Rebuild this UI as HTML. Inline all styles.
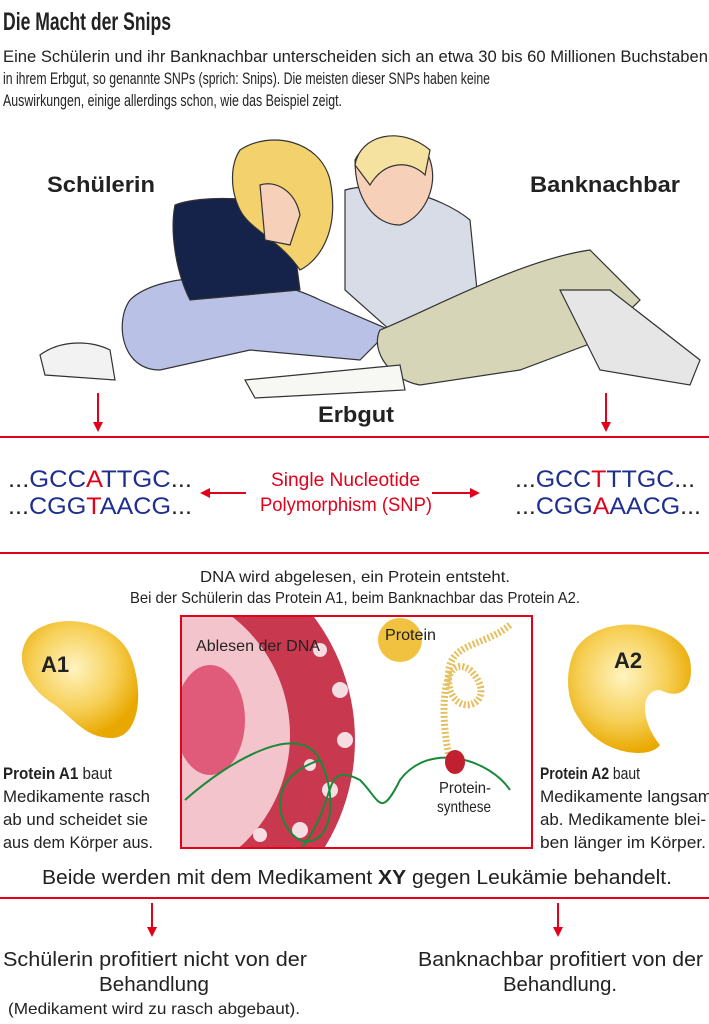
<!DOCTYPE html>
<html><head><meta charset="utf-8"><style>
html,body{margin:0;padding:0;background:#fff}
svg{display:block}
text{font-family:"Liberation Sans Narrow","Liberation Sans",sans-serif;fill:#222}
.b{font-weight:bold}
.r{fill:#e2001a}
.bl{fill:#1f2f8f}
</style></head><body>
<svg width="709" height="1024" viewBox="0 0 709 1024" xmlns="http://www.w3.org/2000/svg">
<defs>
<marker id="ah" markerWidth="10" markerHeight="10" refX="8" refY="5" orient="auto" markerUnits="userSpaceOnUse"><path d="M0,0 L10,5 L0,10 z" fill="#e2001a"/></marker>
<radialGradient id="gy" cx="45%" cy="40%" r="60%"><stop offset="0" stop-color="#fff3c0"/><stop offset="0.6" stop-color="#f6cf55"/><stop offset="1" stop-color="#e9a800"/></radialGradient>
</defs>
<text x="3" y="30" font-size="25" class="b" textLength="168" lengthAdjust="spacingAndGlyphs">Die Macht der Snips</text>
<text x="3" y="62" font-size="17" textLength="705" lengthAdjust="spacingAndGlyphs">Eine Schülerin und ihr Banknachbar unterscheiden sich an etwa 30 bis 60 Millionen Buchstaben</text>
<text x="3" y="84" font-size="17" textLength="487" lengthAdjust="spacingAndGlyphs">in ihrem Erbgut, so genannte SNPs (sprich: Snips). Die meisten dieser SNPs haben keine</text>
<text x="3" y="106" font-size="17" textLength="339" lengthAdjust="spacingAndGlyphs">Auswirkungen, einige allerdings schon, wie das Beispiel zeigt.</text>
<text x="47" y="192" font-size="22" class="b" textLength="108" lengthAdjust="spacingAndGlyphs">Schülerin</text>
<text x="530" y="192" font-size="22" class="b" textLength="150" lengthAdjust="spacingAndGlyphs">Banknachbar</text>
<g stroke="#333" stroke-width="1.2">
<path d="M130,300 C160,270 260,270 320,300 L390,330 L360,360 L250,350 L160,370 C120,370 115,320 130,300z" fill="#b9c2e6"/>
<path d="M40,355 C60,340 90,340 110,350 L115,380 L45,375z" fill="#f2f2f2"/>
<path d="M175,205 C200,195 270,195 290,215 L300,290 L190,300 C175,270 170,230 175,205z" fill="#15224a"/>
<path d="M240,150 C270,130 320,140 330,180 C340,230 320,260 300,270 C280,240 250,230 240,210 C230,190 230,165 240,150z" fill="#f3d26e"/>
<path d="M260,185 C275,180 295,190 300,215 L290,245 L265,240z" fill="#f6d0b8"/>
<path d="M345,190 C380,180 440,195 470,220 L480,320 L390,330 L345,290z" fill="#d8dce6"/>
<path d="M355,160 C370,130 420,130 430,160 C440,190 420,220 400,225 C375,225 355,200 355,160z" fill="#f6d0b8"/>
<path d="M355,165 C360,135 400,125 430,150 L425,175 C410,160 385,160 370,185z" fill="#f5e2a0"/>
<path d="M380,330 C430,310 520,260 590,250 L640,300 L600,340 L520,370 L420,385 C390,380 370,350 380,330z" fill="#d6d5b8"/>
<path d="M560,290 L610,290 L700,360 L690,385 L600,370z" fill="#e6e6e6"/>
<path d="M245,380 L400,365 L405,390 L255,398z" fill="#f7f7f4"/>
</g>
<line x1="98" y1="393" x2="98" y2="430" stroke="#e2001a" stroke-width="2" marker-end="url(#ah)"/>
<line x1="606" y1="393" x2="606" y2="430" stroke="#e2001a" stroke-width="2" marker-end="url(#ah)"/>
<text x="318" y="422" font-size="22" class="b" textLength="76" lengthAdjust="spacingAndGlyphs">Erbgut</text>
<rect x="0" y="436" width="709" height="2" fill="#e2001a"/>
<rect x="0" y="552" width="709" height="2" fill="#e2001a"/>
<text x="8" y="487" font-size="24" textLength="184" lengthAdjust="spacingAndGlyphs"><tspan>...</tspan><tspan class="bl">GCC</tspan><tspan class="r">A</tspan><tspan class="bl">TTGC</tspan><tspan>...</tspan></text>
<text x="8" y="514" font-size="24" textLength="184" lengthAdjust="spacingAndGlyphs"><tspan>...</tspan><tspan class="bl">CGG</tspan><tspan class="r">T</tspan><tspan class="bl">AACG</tspan><tspan>...</tspan></text>
<text x="515" y="487" font-size="24" textLength="180" lengthAdjust="spacingAndGlyphs"><tspan>...</tspan><tspan class="bl">GCC</tspan><tspan class="r">T</tspan><tspan class="bl">TTGC</tspan><tspan>...</tspan></text>
<text x="515" y="514" font-size="24" textLength="186" lengthAdjust="spacingAndGlyphs"><tspan>...</tspan><tspan class="bl">CGG</tspan><tspan class="r">A</tspan><tspan class="bl">AACG</tspan><tspan>...</tspan></text>
<text x="271" y="486" font-size="19" class="r" textLength="149" lengthAdjust="spacingAndGlyphs">Single Nucleotide</text>
<text x="260" y="511" font-size="19" class="r" textLength="172" lengthAdjust="spacingAndGlyphs">Polymorphism (SNP)</text>
<line x1="246" y1="493" x2="202" y2="493" stroke="#e2001a" stroke-width="2" marker-end="url(#ah)"/>
<line x1="432" y1="493" x2="478" y2="493" stroke="#e2001a" stroke-width="2" marker-end="url(#ah)"/>
<text x="200" y="582" font-size="16" textLength="310" lengthAdjust="spacingAndGlyphs">DNA wird abgelesen, ein Protein entsteht.</text>
<text x="130" y="603" font-size="16" textLength="450" lengthAdjust="spacingAndGlyphs">Bei der Schülerin das Protein A1, beim Banknachbar das Protein A2.</text>
<path d="M30,635 C55,610 115,620 130,655 C145,690 140,740 110,738 C85,737 75,720 55,705 C30,690 10,660 30,635z" fill="url(#gy)"/>
<path d="M575,650 C600,610 680,620 690,660 C695,690 680,700 660,690 C640,690 640,720 660,745 C650,760 600,755 580,720 C565,700 565,670 575,650z" fill="url(#gy)"/>
<text x="55" y="672" font-size="22" class="b" text-anchor="middle">A1</text>
<text x="628" y="668" font-size="22" class="b" text-anchor="middle">A2</text>
<clipPath id="cb"><rect x="182" y="617" width="349" height="230"/></clipPath>
<g clip-path="url(#cb)">
<rect x="182" y="617" width="349" height="230" fill="#fff"/>
<circle cx="150" cy="740" r="205" fill="#c8384f"/>
<circle cx="140" cy="735" r="150" fill="#f4c4cc"/>
<ellipse cx="210" cy="720" rx="35" ry="55" fill="#e05a7a"/>
<g fill="#f6dde2"><circle cx="320" cy="650" r="7"/><circle cx="340" cy="690" r="8"/><circle cx="345" cy="740" r="8"/><circle cx="330" cy="790" r="8"/><circle cx="300" cy="830" r="8"/><circle cx="260" cy="835" r="7"/><circle cx="310" cy="765" r="6"/></g>
<path d="M185,800 C230,760 300,720 320,760 C340,800 330,850 300,840 C280,830 260,780 320,760" fill="none" stroke="#1a8a3a" stroke-width="2"/>
<path d="M300,850 C340,800 320,760 360,780 C380,800 380,820 400,780 C430,740 490,760 510,790" fill="none" stroke="#1a8a3a" stroke-width="2"/>
<circle cx="400" cy="640" r="22" fill="#f0c240"/>
<path d="M510,625 C480,650 440,640 450,690 C460,720 500,700 470,670 C440,650 440,720 450,760" fill="none" stroke="#e6c060" stroke-width="7" stroke-dasharray="2 2"/>
<ellipse cx="455" cy="762" rx="10" ry="12" fill="#c02030"/>
</g>
<rect x="181" y="616" width="351" height="232" fill="none" stroke="#e2001a" stroke-width="2"/>
<text x="196" y="651" font-size="16" textLength="124" lengthAdjust="spacingAndGlyphs">Ablesen der DNA</text>
<text x="385" y="640" font-size="16" textLength="51" lengthAdjust="spacingAndGlyphs">Protein</text>
<text x="439" y="793" font-size="16" textLength="52" lengthAdjust="spacingAndGlyphs">Protein-</text>
<text x="437" y="812" font-size="16" textLength="54" lengthAdjust="spacingAndGlyphs">synthese</text>
<text x="3" y="779" font-size="17" textLength="109" lengthAdjust="spacingAndGlyphs"><tspan class="b">Protein A1</tspan> baut</text>
<text x="3" y="802" font-size="17" textLength="147" lengthAdjust="spacingAndGlyphs">Medikamente rasch</text>
<text x="3" y="825" font-size="17" textLength="145" lengthAdjust="spacingAndGlyphs">ab und scheidet sie</text>
<text x="3" y="848" font-size="17" textLength="150" lengthAdjust="spacingAndGlyphs">aus dem Körper aus.</text>
<text x="540" y="779" font-size="17" textLength="100" lengthAdjust="spacingAndGlyphs"><tspan class="b">Protein A2</tspan> baut</text>
<text x="540" y="802" font-size="17" textLength="172" lengthAdjust="spacingAndGlyphs">Medikamente langsam</text>
<text x="540" y="825" font-size="17" textLength="166" lengthAdjust="spacingAndGlyphs">ab. Medikamente blei-</text>
<text x="540" y="848" font-size="17" textLength="166" lengthAdjust="spacingAndGlyphs">ben länger im Körper.</text>
<text x="42" y="884" font-size="20" textLength="630" lengthAdjust="spacingAndGlyphs">Beide werden mit dem Medikament <tspan class="b">XY</tspan> gegen Leukämie behandelt.</text>
<rect x="0" y="897" width="709" height="2" fill="#e2001a"/>
<line x1="152" y1="903" x2="152" y2="935" stroke="#e2001a" stroke-width="2" marker-end="url(#ah)"/>
<line x1="558" y1="903" x2="558" y2="935" stroke="#e2001a" stroke-width="2" marker-end="url(#ah)"/>
<text x="3" y="966" font-size="20" textLength="304" lengthAdjust="spacingAndGlyphs">Schülerin profitiert nicht von der</text>
<text x="99" y="991" font-size="20" textLength="110" lengthAdjust="spacingAndGlyphs">Behandlung</text>
<text x="8" y="1014" font-size="16" textLength="292" lengthAdjust="spacingAndGlyphs">(Medikament wird zu rasch abgebaut).</text>
<text x="418" y="966" font-size="20" textLength="285" lengthAdjust="spacingAndGlyphs">Banknachbar profitiert von der</text>
<text x="503" y="991" font-size="20" textLength="114" lengthAdjust="spacingAndGlyphs">Behandlung.</text>
</svg>
</body></html>
